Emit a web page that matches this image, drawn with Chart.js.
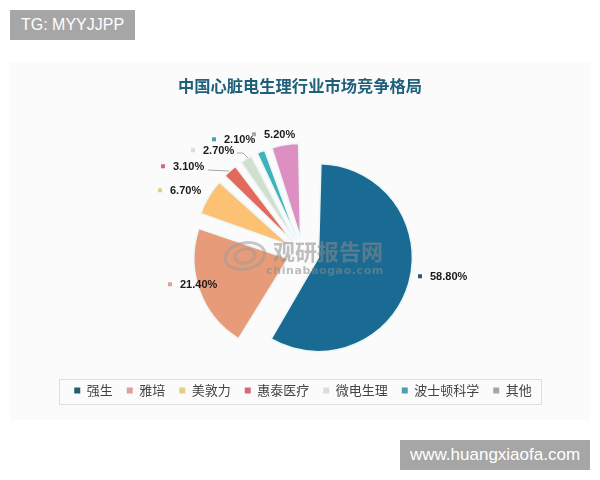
<!DOCTYPE html>
<html>
<head>
<meta charset="utf-8">
<script src="https://cdn.jsdelivr.net/npm/chart.js@4"></script>
<style>
  html, body { margin: 0; background: #fff; }
  #wrap { position: relative; width: 600px; height: 480px; overflow: hidden; }
  canvas { position: absolute; left: 0; top: 0; filter: blur(0.35px); }
  .tag { position: absolute; background: #a6a6a6; color: #fff; font-family: "Liberation Sans", sans-serif; height: 30px; line-height: 30px; text-align: center; }
</style>
</head>
<body>
<div id="wrap">
  <canvas id="myChart" width="600" height="480"></canvas>
  <div class="tag" style="left:10px;top:10px;width:125px;font-size:16px">TG: MYYJJPP</div>
  <div class="tag" style="left:400px;top:440px;width:190px;font-size:17px">www.huangxiaofa.com</div>
</div>
<script>
const categories = ['强生', '雅培', '美敦力', '惠泰医疗', '微电生理', '波士顿科学', '其他'];
const shares = [58.8, 21.4, 6.7, 3.1, 2.7, 2.1, 5.2];
const colors = ['#1a6b94', '#e89b78', '#fdc173', '#e2695c', '#d0dfd0', '#3fb3bb', '#dc8fc0'];
const legendColors = ['#1f5f6e', '#dba39a', '#e8cc85', '#cf6b7c', '#dcdcdc', '#4f9fae', '#a9a4aa'];
const chartTitle = '中国心脏电生理行业市场竞争格局';

// where each value label sits, measured from the pie centre
const labelOffsets = [[117, 23], [-133, 31], [-143, -63], [-140, -87], [-110, -103], [-89, -114], [-49, -119]];

const sliceOffset = 64;   // chart.js moves a slice by offset / 4
const sliceRadius = 94;

const cardAndLabels = {
  id: 'cardAndLabels',
  afterLayout(chart) {
    // padding moves pie and legend right, the title stays on the page centre
    chart.titleBlock.right -= 6;
  },
  afterDatasetsUpdate(chart) {
    // offset also grows an arc, by an amount that depends on its sweep; undo that so all radii match
    chart.getDatasetMeta(0).data.forEach(arc => {
      const grow = (sliceOffset / 4) * (1 - Math.sin(Math.min(Math.PI, arc.circumference)));
      arc.outerRadius = sliceRadius - grow;
    });
  },
  beforeDraw(chart) {
    const c = chart.ctx;
    c.save();
    c.fillStyle = '#fbfbfb';
    c.fillRect(10, 62, 580, 358);
    c.restore();
  },
  beforeDatasetsDraw(chart) {
    const c = chart.ctx;
    c.save();
    c.strokeStyle = '#dedede';
    c.lineWidth = 1;
    c.strokeRect(59.5, 379.5, 482, 25);
    c.restore();
  },
  afterDatasetsDraw(chart) {
    const c = chart.ctx;
    const cx = (chart.chartArea.left + chart.chartArea.right) / 2;
    const cy = (chart.chartArea.top + chart.chartArea.bottom) / 2;
    c.save();

    // watermark
    c.globalAlpha = 0.55;
    c.strokeStyle = '#9a9a9a';
    c.lineWidth = 3;
    c.beginPath(); c.ellipse(245, 256, 20, 13, -0.2, 0, Math.PI * 2); c.stroke();
    c.beginPath(); c.ellipse(245, 256, 10, 7, -0.2, 0, Math.PI * 2); c.stroke();
    c.fillStyle = '#8a8a8a';
    c.textBaseline = 'middle';
    c.textAlign = 'center';
    c.font = 'bold 22px "Noto Sans CJK SC"';
    c.fillText('观研报告网', 328, 252);
    c.font = 'bold 11px "DejaVu Sans"';
    c.letterSpacing = '0.6px';
    c.fillText('chinabaogao.com', 325, 271);
    c.letterSpacing = '0px';
    c.globalAlpha = 1;

    // leader lines for the two crowded labels
    c.strokeStyle = '#a8a8a8';
    c.lineWidth = 1;
    c.beginPath(); c.moveTo(208, 170); c.lineTo(229, 171); c.stroke();
    c.beginPath(); c.moveTo(237, 153); c.lineTo(243, 153); c.lineTo(248, 158); c.stroke();

    // value labels
    c.textAlign = 'left';
    c.font = 'bold 11px "Liberation Sans"';
    shares.forEach((v, i) => {
      const x = cx + labelOffsets[i][0];
      const y = cy + labelOffsets[i][1];
      c.fillStyle = legendColors[i];
      c.fillRect(x - 2, y - 2, 4, 4);
      c.fillStyle = '#1a1a1a';
      c.fillText(v.toFixed(2) + '%', x + 10, y + 0.5);
    });
    c.restore();
  }
};

new Chart(document.getElementById('myChart'), {
  type: 'pie',
  data: {
    labels: categories,
    datasets: [{
      data: shares,
      backgroundColor: colors,
      borderColor: '#ecf6f6',
      borderWidth: 1.5,
      offset: sliceOffset
    }]
  },
  options: {
    responsive: false,
    animation: false,
    radius: 79,
    layout: { padding: { top: 76, bottom: 73, left: 6, right: 0 } },
    plugins: {
      tooltip: { enabled: false },
      title: {
        display: true,
        text: chartTitle,
        color: '#1f5f7a',
        font: { family: '"Noto Sans CJK SC"', size: 16.3, weight: 'bold' },
        padding: { top: 0, bottom: 41 }
      },
      legend: {
        position: 'bottom',
        labels: {
          generateLabels(chart) {
            return categories.map((name, i) => ({
              text: name, fillStyle: legendColors[i], strokeStyle: legendColors[i],
              lineWidth: 0, index: i, fontColor: '#444'
            }));
          },
          boxWidth: 6,
          boxHeight: 6,
          padding: 14,
          color: '#444',
          font: { family: '"Noto Sans CJK SC"', size: 13 }
        }
      }
    }
  },
  plugins: [cardAndLabels]
});
</script>
</body>
</html>
